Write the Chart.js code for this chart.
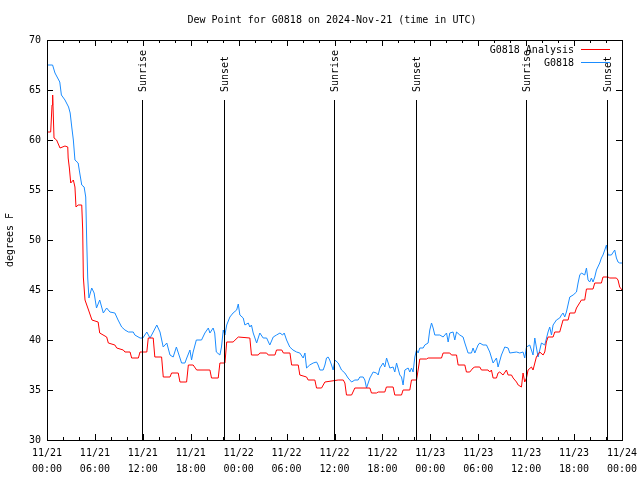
<!DOCTYPE html>
<html>
<head>
<meta charset="utf-8">
<script src="https://cdn.jsdelivr.net/npm/chart.js@4.4.1/dist/chart.umd.min.js"></script>
<style>
  html, body { margin: 0; padding: 0; background: #fff; }
  #wrap { width: 640px; height: 480px; }
</style>
</head>
<body>
<div id="wrap"><canvas id="c" width="640" height="480"></canvas></div>
<script>
// ---- Data (hours since 2024-11-21 00:00 UTC) ----
const titleText = "Dew Point for G0818 on 2024-Nov-21 (time in UTC)";
const yAxisTitle = "degrees F";
const seriesNames = ["G0818 Analysis", "G0818"];

const xTickDates = ["11/21","11/21","11/21","11/21","11/22","11/22","11/22","11/22","11/23","11/23","11/23","11/23","11/24"];
const xTickTimes = ["00:00","06:00","12:00","18:00","00:00","06:00","12:00","18:00","00:00","06:00","12:00","18:00","00:00"];

const eventHours  = [11.93, 22.19, 35.96, 46.22, 60.0, 70.18];
const eventLabels = ["Sunrise","Sunset","Sunrise","Sunset","Sunrise","Sunset"];

const obsHours = [0.0,0.7,1.0,1.6,1.8,2.25,2.7,2.9,3.1,3.3,3.5,3.9,4.1,4.35,4.65,4.85,4.97,5.1,5.25,5.6,5.9,6.2,6.6,7.05,7.47,7.88,8.5,8.9,9.35,9.76,10.2,10.8,11.0,11.65,12.0,12.5,12.9,13.3,13.75,14.15,14.55,15.0,15.4,15.8,16.2,16.65,16.85,17.27,17.5,17.9,18.1,18.3,18.7,19.35,19.77,20.2,20.4,20.8,21.0,21.2,21.65,21.85,22.07,22.28,22.5,22.9,23.3,23.75,23.95,24.15,24.57,24.78,25.2,25.4,25.6,25.82,26.25,26.65,27.07,27.5,27.9,28.33,28.74,29.17,29.5,29.7,30.0,30.4,30.8,31.25,31.66,32.08,32.3,32.5,32.9,33.33,33.75,33.95,34.17,34.58,34.8,35.0,35.2,35.4,35.63,35.83,36.05,36.46,36.88,37.3,37.7,38.14,38.55,38.96,39.17,39.59,39.8,40.01,40.43,40.84,41.26,41.47,41.68,42.09,42.3,42.52,42.93,43.34,43.55,43.77,44.18,44.39,44.59,44.81,45.22,45.43,45.64,45.84,46.06,46.27,46.47,46.68,47.1,47.31,47.72,47.93,48.15,48.35,48.56,49.19,49.6,50.03,50.23,50.44,50.85,51.06,51.28,51.69,52.1,52.32,52.73,53.15,53.35,53.57,53.98,54.19,54.6,55.03,55.44,55.86,56.28,56.48,56.9,57.32,57.74,57.95,58.79,59.2,59.61,59.82,60.04,60.45,60.86,61.08,61.49,61.91,62.33,62.74,62.95,63.17,63.37,63.79,64.2,64.42,64.62,64.83,65.04,65.46,65.88,66.3,66.5,66.71,66.92,67.33,67.55,67.75,67.96,68.17,68.37,68.59,68.8,69.21,69.42,69.62,69.84,70.05,70.25,70.67,71.09,71.3,71.5,71.71,72.0];
const obsValues = [67.5,67.5,66.7,65.8,64.5,64.0,63.3,62.7,61.3,60.0,58.0,57.7,56.7,55.5,55.3,54.3,50.0,46.2,44.2,45.2,44.7,43.2,44.0,42.7,43.2,42.8,42.7,42.0,41.3,41.0,40.8,40.8,40.5,40.2,40.2,40.8,40.2,40.8,41.5,40.8,39.3,39.7,38.5,38.3,39.3,38.2,37.7,37.7,38.2,39.0,38.0,38.8,40.0,40.0,40.7,41.2,40.7,41.2,40.7,38.8,38.5,39.3,41.0,40.5,41.5,42.3,42.7,43.0,43.6,42.5,42.2,41.5,41.7,41.3,41.5,40.7,39.7,40.7,40.2,40.2,39.5,40.3,40.5,40.7,40.5,40.7,40.0,39.3,39.0,38.8,38.7,38.2,38.7,37.2,37.5,37.7,37.8,37.5,37.0,37.0,37.5,38.2,38.3,38.0,37.5,37.0,38.0,37.7,37.0,36.7,36.2,35.8,36.0,36.0,36.3,36.3,36.0,35.2,36.2,36.8,36.7,36.5,37.2,37.7,37.3,38.2,37.2,37.3,36.8,37.7,36.5,36.3,35.5,37.0,37.2,36.8,37.2,36.8,38.3,39.0,38.7,39.2,39.2,39.5,39.7,41.0,41.7,41.2,40.5,40.5,40.3,40.7,39.8,40.7,40.8,40.0,40.8,40.5,40.3,39.7,38.7,38.7,39.2,38.7,39.5,39.7,39.5,39.5,38.8,37.7,38.2,37.3,38.5,39.3,39.2,38.7,38.8,38.7,38.8,38.2,39.3,39.5,38.5,40.2,38.3,39.7,39.5,40.8,41.3,40.5,41.5,42.0,42.2,42.5,42.7,42.3,42.8,44.3,44.5,44.8,45.7,46.5,46.7,46.5,47.2,46.0,45.8,46.2,45.8,46.3,47.0,47.7,48.2,48.5,49.0,49.5,48.5,48.5,49.0,48.2,47.8,47.7,47.7];

const anaHours = [0,0.46,0.63,0.71,0.88,1.2,1.63,2.25,2.6,2.65,2.8,2.97,3.3,3.5,3.63,3.9,4.35,4.47,4.55,4.76,5.2,5.63,6.4,6.6,7.47,7.68,8.5,8.73,9.55,9.76,10.4,10.6,11.44,11.65,12.5,12.68,13.3,13.5,14.35,14.56,15.4,15.6,16.43,16.65,17.48,17.7,18.3,18.74,20.4,20.6,21.44,21.65,22.28,22.5,23.3,23.95,25.4,25.6,26.45,26.65,27.5,27.7,28.54,28.74,29.4,29.6,30.42,30.63,31.46,31.66,32.5,32.7,33.54,33.75,34.38,34.8,36.46,37.1,37.3,37.5,38.14,38.55,40.43,40.63,41.26,41.47,42.3,42.5,43.34,43.55,44.39,44.59,45.43,45.64,46.27,46.47,46.68,47.52,47.72,49.4,49.6,50.44,50.65,51.28,51.48,52.32,52.52,52.94,53.35,53.57,54.19,54.4,55.23,55.44,55.65,55.86,56.28,56.48,56.69,57.1,57.53,57.74,58.16,58.37,58.79,59.0,59.41,59.61,59.82,60.04,60.24,60.66,60.86,61.28,61.7,62.12,62.33,62.53,62.74,63.37,63.58,64.2,64.62,65.25,65.46,66.09,66.3,66.92,67.33,67.55,68.37,68.59,69.42,69.62,70.25,70.46,71.3,71.5,71.71,72.0];
const anaValues = [60.8,60.8,63.5,64.5,60.2,60.0,59.2,59.4,59.3,58.2,57.2,55.7,56.0,55.3,53.3,53.5,53.5,51.0,46.3,44.0,43.0,42.0,41.8,40.7,40.3,39.7,39.5,39.2,39.0,38.8,38.8,38.2,38.2,38.8,38.8,40.2,40.2,38.3,38.3,36.3,36.3,36.7,36.7,35.8,35.8,37.5,37.5,37.0,37.0,36.2,36.2,37.7,37.7,39.8,39.8,40.3,40.2,38.5,38.5,38.7,38.7,38.5,38.5,39.0,39.0,38.7,38.7,37.5,37.5,36.5,36.3,36.0,36.0,35.2,35.2,35.8,36.0,36.0,35.7,34.5,34.5,35.2,35.2,34.7,34.7,34.8,34.8,35.3,35.3,34.5,34.5,35.0,35.0,36.0,36.0,37.0,38.1,38.1,38.2,38.2,38.7,38.7,38.5,38.5,37.5,37.5,36.8,36.8,37.2,37.3,37.3,37.0,37.0,36.8,37.0,36.2,36.2,36.7,36.8,36.5,37.0,36.5,36.5,36.2,35.8,35.5,35.3,36.7,35.8,36.2,37.0,37.3,37.0,38.3,38.8,38.5,38.8,39.8,40.3,40.3,40.8,40.8,42.0,42.0,42.7,42.7,43.2,44.0,44.0,45.1,45.1,45.7,45.7,46.3,46.3,46.2,46.2,46.0,45.3,45.0];

const FONT = "'DejaVu Sans Mono', 'Liberation Mono', monospace";

function pts(hs, vs) { return hs.map((h, i) => ({ x: h, y: vs[i] })); }

const gnuplotDecor = {
  id: 'gnuplotDecor',
  afterDatasetsDraw(chart) {
    const { ctx, chartArea: a, scales } = chart;
    const xs = scales.x, ys = scales.y;
    ctx.save();
    ctx.strokeStyle = '#000';
    ctx.lineWidth = 1;
    ctx.font = '10px ' + FONT;
    ctx.fillStyle = '#000';
    eventHours.forEach((h, i) => {
      const px = Math.round(xs.getPixelForValue(h)) + 0.5;
      ctx.beginPath();
      ctx.moveTo(px, a.bottom);
      ctx.lineTo(px, a.top + 60);
      ctx.stroke();
      ctx.save();
      ctx.translate(px + 1, a.top + 52);
      ctx.rotate(-Math.PI / 2);
      ctx.textAlign = 'left';
      ctx.textBaseline = 'middle';
      ctx.fillText(eventLabels[i], 0, 0);
      ctx.restore();
    });
    ctx.strokeRect(Math.round(a.left) + 0.5, Math.round(a.top) + 0.5, Math.round(a.right - a.left), Math.round(a.bottom - a.top));
    for (let h = 0; h <= 72; h += 2) {
      const px = Math.round(xs.getPixelForValue(h)) + 0.5;
      const len = (h % 6 === 0) ? 6 : 3;
      ctx.beginPath();
      ctx.moveTo(px, a.bottom); ctx.lineTo(px, a.bottom - len);
      ctx.moveTo(px, a.top); ctx.lineTo(px, a.top + len);
      ctx.stroke();
    }
    ys.ticks.forEach(t => {
      const py = Math.round(ys.getPixelForValue(t.value)) + 0.5;
      ctx.beginPath();
      ctx.moveTo(a.left, py); ctx.lineTo(a.left + 6, py);
      ctx.moveTo(a.right, py); ctx.lineTo(a.right - 6, py);
      ctx.stroke();
    });
    const colors = ['#ff0000', '#1a8cff'];
    ctx.textAlign = 'right';
    ctx.textBaseline = 'middle';
    seriesNames.forEach((n, i) => {
      const y = a.top + 9.5 + i * 13;
      ctx.fillStyle = '#000';
      ctx.fillText(n, 574, y + 0.5);
      ctx.strokeStyle = colors[i];
      ctx.beginPath();
      ctx.moveTo(581, Math.round(y) - 0.5);
      ctx.lineTo(610, Math.round(y) - 0.5);
      ctx.stroke();
    });
    ctx.fillStyle = '#000';
    ctx.textAlign = 'center';
    ctx.fillText(titleText, 332, 20);
    ctx.save();
    ctx.translate(10, (a.top + a.bottom) / 2);
    ctx.rotate(-Math.PI / 2);
    ctx.textAlign = 'center';
    ctx.textBaseline = 'middle';
    ctx.fillText(yAxisTitle, 0, 0);
    ctx.restore();
    ctx.restore();
  }
};

new Chart(document.getElementById('c'), {
  type: 'line',
  data: {
    datasets: [
      { label: seriesNames[0], data: pts(anaHours, anaValues), borderColor: '#ff0000', borderWidth: 1, pointRadius: 0, tension: 0, fill: false },
      { label: seriesNames[1], data: pts(obsHours, obsValues), borderColor: '#1a8cff', borderWidth: 1, pointRadius: 0, tension: 0, fill: false }
    ]
  },
  options: {
    responsive: false,
    animation: false,
    devicePixelRatio: 1,
    layout: { padding: { top: 40, right: 18, left: 0, bottom: 0 } },
    plugins: { legend: { display: false }, title: { display: false }, tooltip: { enabled: false } },
    scales: {
      x: {
        type: 'linear', min: 0, max: 72,
        afterFit(s) { s.height = 40; s.paddingLeft = 0; s.paddingRight = 0; },
        afterBuildTicks(s) { s.ticks = xTickDates.map((d, i) => ({ value: i * 6 })); },
        grid: { display: false, drawTicks: false },
        border: { display: false },
        ticks: {
          autoSkip: false, maxRotation: 0, padding: 5, color: '#000',
          font: { family: FONT, size: 10, lineHeight: 1.6 },
          callback: (v) => { const i = Math.round(v / 6); return [xTickDates[i], xTickTimes[i]]; }
        }
      },
      y: {
        min: 30, max: 70,
        afterFit(s) { s.width = 47; s.paddingTop = 0; s.paddingBottom = 0; },
        grid: { display: false, drawTicks: false },
        border: { display: false },
        ticks: { stepSize: 5, padding: 6, color: '#000', font: { family: FONT, size: 10 } }
      }
    }
  },
  plugins: [gnuplotDecor]
});
</script>
</body>
</html>
